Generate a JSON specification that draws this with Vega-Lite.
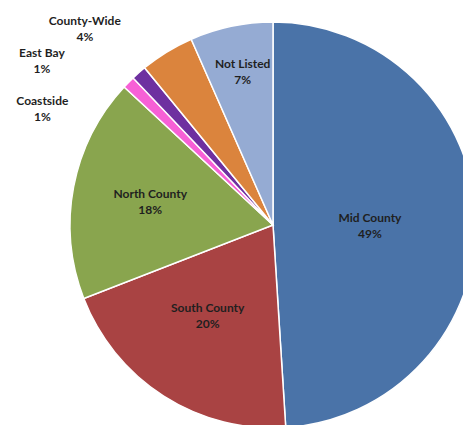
{
  "$schema": "https://vega.github.io/schema/vega-lite/v6.json",
  "width": 380,
  "height": 400,
  "autosize": {"type": "none"},
  "padding": {"left": 83, "top": 25, "right": 0, "bottom": 0},
  "background": "white",
  "config": {"view": {"stroke": null}},
  "data": {
    "values": [
      {"idx": 1, "region": "Mid County", "value": 49.0, "label": "Mid County\n49%"},
      {"idx": 2, "region": "South County", "value": 20.1, "label": "South County\n20%"},
      {"idx": 3, "region": "North County", "value": 17.8, "label": "North County\n18%"},
      {"idx": 4, "region": "Coastside", "value": 1.0, "label": "Coastside\n1%"},
      {"idx": 5, "region": "East Bay", "value": 1.2, "label": "East Bay\n1%"},
      {"idx": 6, "region": "County-Wide", "value": 4.3, "label": "County-Wide\n4%"},
      {"idx": 7, "region": "Not Listed", "value": 6.6, "label": "Not Listed\n7%"}
    ]
  },
  "encoding": {
    "theta": {"field": "value", "type": "quantitative", "stack": true},
    "order": {"field": "idx", "type": "quantitative"},
    "detail": {"field": "region", "type": "nominal"}
  },
  "layer": [
    {
      "mark": {"type": "arc", "outerRadius": 203, "stroke": "white", "strokeWidth": 1.5},
      "encoding": {
        "color": {
          "field": "region",
          "type": "nominal",
          "scale": {
            "domain": ["Mid County", "South County", "North County", "Coastside", "East Bay", "County-Wide", "Not Listed"],
            "range": ["#4a73a8", "#a94343", "#89a54e", "#f760d6", "#6e30a0", "#db843d", "#95abd3"]
          },
          "legend": null
        }
      }
    },
    {
      "mark": {"type": "text", "radius": 97, "dy": -4, "font": "Lato", "fontWeight": "bold", "fontSize": 12, "lineBreak": "\n", "lineHeight": 16, "fill": "#1f1f1f"},
      "encoding": {"text": {"condition": {"test": "datum.region === 'Mid County'", "field": "label"}, "value": ""}}
    },
    {
      "mark": {"type": "text", "radius": 112, "dx": -5, "dy": -11, "font": "Lato", "fontWeight": "bold", "fontSize": 12, "lineBreak": "\n", "lineHeight": 16, "fill": "#1f1f1f"},
      "encoding": {"text": {"condition": {"test": "datum.region === 'South County'", "field": "label"}, "value": ""}}
    },
    {
      "mark": {"type": "text", "radius": 125, "dy": -8, "font": "Lato", "fontWeight": "bold", "fontSize": 12, "lineBreak": "\n", "lineHeight": 16, "fill": "#1f1f1f"},
      "encoding": {"text": {"condition": {"test": "datum.region === 'North County'", "field": "label"}, "value": ""}}
    },
    {
      "mark": {"type": "text", "radius": 157, "dx": 2, "dy": -7, "font": "Lato", "fontWeight": "bold", "fontSize": 12, "lineBreak": "\n", "lineHeight": 16, "fill": "#1f1f1f"},
      "encoding": {"text": {"condition": {"test": "datum.region === 'Not Listed'", "field": "label"}, "value": ""}}
    },
    {
      "mark": {"type": "text", "radius": 230, "dx": -67, "dy": 38, "font": "Lato", "fontWeight": "bold", "fontSize": 12, "lineBreak": "\n", "lineHeight": 16, "fill": "#1f1f1f"},
      "encoding": {"text": {"condition": {"test": "datum.region === 'Coastside'", "field": "label"}, "value": ""}}
    },
    {
      "mark": {"type": "text", "radius": 230, "dx": -79, "dy": 0.5, "font": "Lato", "fontWeight": "bold", "fontSize": 12, "lineBreak": "\n", "lineHeight": 16, "fill": "#1f1f1f"},
      "encoding": {"text": {"condition": {"test": "datum.region === 'East Bay'", "field": "label"}, "value": ""}}
    },
    {
      "mark": {"type": "text", "radius": 230, "dx": -68, "dy": -8, "font": "Lato", "fontWeight": "bold", "fontSize": 12, "lineBreak": "\n", "lineHeight": 16, "fill": "#1f1f1f"},
      "encoding": {"text": {"condition": {"test": "datum.region === 'County-Wide'", "field": "label"}, "value": ""}}
    }
  ]
}
